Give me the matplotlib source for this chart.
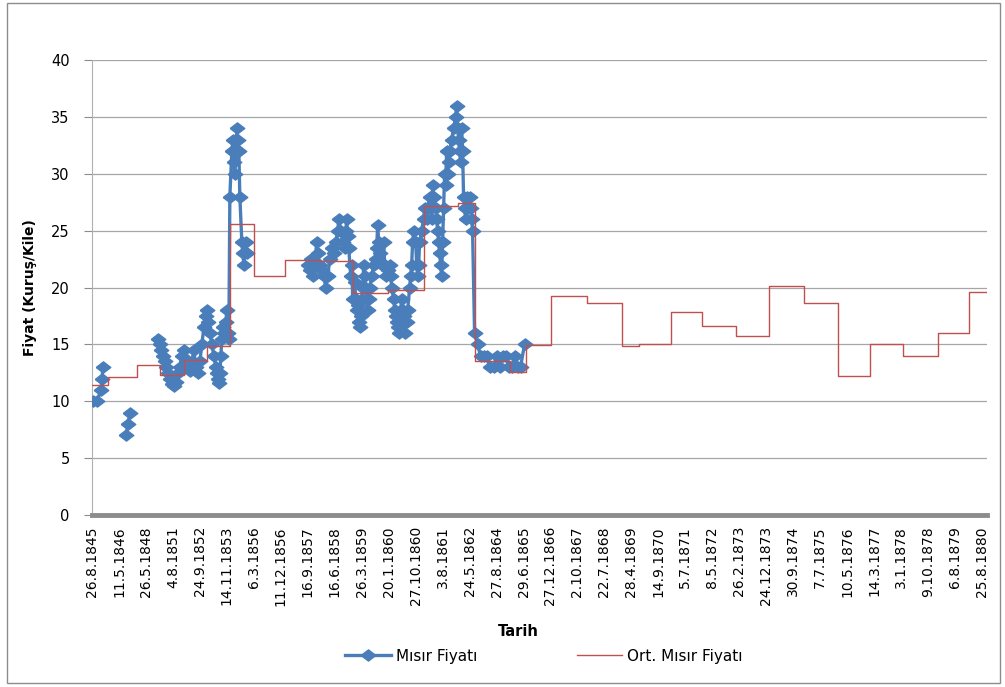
import numpy as np
import matplotlib
matplotlib.use("Agg")
import matplotlib.pyplot as plt
from matplotlib.patches import Rectangle

# x axis is a category axis: one label every 27 observations
tarih_etiket = ["26.8.1845", "11.5.1846", "26.5.1848", "4.8.1851", "24.9.1852", "14.11.1853",
                "6.3.1856", "11.12.1856", "16.9.1857", "16.6.1858", "26.3.1859", "20.1.1860",
                "27.10.1860", "3.8.1861", "24.5.1862", "27.8.1864", "29.6.1865", "27.12.1866",
                "2.10.1867", "22.7.1868", "28.4.1869", "14.9.1870", "5.7.1871", "8.5.1872",
                "26.2.1873", "24.12.1873", "30.9.1874", "7.7.1875", "10.5.1876", "14.3.1877",
                "3.1.1878", "9.10.1878", "6.8.1879", "25.8.1880"]
etiket_adim = 27
son_gozlem = 896

# Mısır fiyatı (observation index, price), in separate runs (gaps between them)
grup1_idx = [1, 5, 9, 10, 11]
grup1_fiyat = [10, 10, 11, 12, 13]

grup2_idx = [34, 36, 38]
grup2_fiyat = [7, 8, 9]

grup3_idx = [66, 68, 69, 71, 73, 74, 76, 78, 80, 82, 84, 86, 88, 90, 92, 94, 96, 98, 100, 102,
             104, 106, 108, 110, 112, 114, 115, 116, 118, 120, 122, 124, 125, 126, 127, 128, 129,
             130, 131, 132, 134, 135, 136, 137, 138, 140, 141, 142, 143, 144, 145, 146, 147, 148,
             150, 151, 152, 153, 154, 155]
grup3_fiyat = [15.5, 15, 14.5, 14, 13.5, 13, 12.5, 12, 11.5, 11.3, 11.7, 12.5, 13, 14, 14.5, 13.5,
               13, 12.7, 13.5, 14.5, 13, 12.5, 13.5, 15, 16.5, 17.5, 18, 17, 16, 15, 14, 13, 12.5,
               12, 11.6, 12.5, 14, 15.5, 16.5, 16, 17, 18, 16, 15.5, 28, 32, 33, 31, 30, 32, 34,
               33, 32, 28, 24, 23, 22, 23, 24, 23]

grup4_idx = [216, 218, 219, 221, 223, 225, 226, 228, 230, 232, 234, 236, 238, 240, 242, 244, 246,
             247, 249, 251, 253, 254, 255, 256, 257, 259, 260, 261, 263, 264, 265, 266, 267, 268,
             269, 270, 271, 272, 273, 274, 275, 276, 277, 278, 280, 282, 284, 285, 286, 287, 288,
             290, 292, 293, 294, 296, 298, 299, 300, 302, 303, 304, 305, 306, 307, 308, 309, 310,
             311, 312, 313, 315, 316, 318, 319, 320, 321, 322, 324, 325, 326, 327, 328, 330, 332,
             333, 335, 336, 338, 339, 340, 341, 342, 344, 345, 346, 347, 348, 349, 350, 351, 352,
             353, 354, 355, 356, 357, 358, 360, 362, 364, 365, 366, 367, 368, 369, 370, 371, 372,
             373, 374, 375, 376, 378, 379, 380, 381, 383, 386, 389, 392, 395, 398, 402, 405, 408,
             411, 414, 417, 420, 423, 426, 429, 433]
grup4_fiyat = [22, 21.5, 22.5, 21, 22, 24, 23, 22, 21.5, 21, 20, 21, 22.5, 23.5, 23, 24, 25, 26,
               25, 24, 23.5, 25, 26, 24.5, 23.5, 21, 22, 19, 20.5, 19, 18, 18.5, 17, 16.5, 17.5,
               19, 20, 22, 21, 20, 19, 18, 19, 20, 21, 22, 22.5, 23.5, 25.5, 24, 23, 22, 24, 22,
               21, 21.5, 22, 21, 20, 19, 18, 17.5, 17, 16.5, 16, 17, 18, 19, 18, 17.5, 16, 17, 18,
               20, 21, 22, 24, 25, 24, 22, 21, 22, 24, 25, 26, 27, 26, 27, 28, 27, 26, 29, 28, 27,
               26, 25, 24, 23, 22, 21, 24, 27, 30, 29, 32, 30, 31, 32, 33, 34, 35, 36, 34, 33, 32,
               31, 34, 32, 28, 27, 26, 28, 27, 28, 27, 26, 25, 16, 15, 14, 14, 14, 13, 13, 14, 13,
               14, 14, 13, 13, 14, 13, 13, 15]

# Ort. Mısır Fiyatı: period start index and average level
ort_baslangic = [0, 16, 45, 68, 92, 115, 138, 162, 193, 227, 261, 296, 332, 366, 383, 418, 434,
                 460, 496, 531, 548, 580, 611, 645, 678, 713, 747, 779, 812, 847, 878]
ort_fiyat = [11.4, 12.1, 13.2, 12.3, 13.6, 14.9, 25.6, 21.0, 22.4, 22.3, 19.5, 19.8, 27.2, 27.4,
             13.5, 12.6, 14.95, 19.25, 18.6, 14.85, 15.0, 17.85, 16.6, 15.7, 20.1, 18.6, 12.2,
             15.0, 14.0, 16.0, 19.6]

mavi = "#4a7ebb"
kirmizi = "#c0504d"
gri = "#8c8c8c"

# join the runs with NaN so the line breaks between them
x_m, y_m = [], []
for gi, gf in [(grup1_idx, grup1_fiyat), (grup2_idx, grup2_fiyat),
               (grup3_idx, grup3_fiyat), (grup4_idx, grup4_fiyat)]:
    x_m += gi + [np.nan]
    y_m += gf + [np.nan]

fig = plt.figure(figsize=(10.05, 6.87), dpi=100)
ax = fig.add_axes([92 / 1005, 1 - 515 / 687, (987 - 92) / 1005, (515 - 60) / 687])

elmas = [(-1.3, 0), (0, 1), (1.3, 0), (0, -1), (-1.3, 0)]
ax.plot(x_m, y_m, color=mavi, lw=2.4, marker=elmas, markersize=10.5, mec=mavi, mfc=mavi,
        label="Mısır Fiyatı", zorder=3)

x_o = ort_baslangic + [son_gozlem]
y_o = ort_fiyat + [ort_fiyat[-1]]
ax.step(x_o, y_o, where="post", color=kirmizi, lw=1.0, label="Ort. Mısır Fiyatı", zorder=4)

ax.set_xlim(0, son_gozlem)
ax.set_ylim(0, 40)
ax.set_yticks(range(0, 41, 5))
ax.set_xticks(range(0, len(tarih_etiket) * etiket_adim, etiket_adim))
ax.set_xticklabels(tarih_etiket, rotation=90, fontsize=10)
ax.tick_params(axis="x", length=0, pad=8)
ax.tick_params(axis="y", length=6, width=0.8, color=gri, labelsize=10.5, pad=10)

ax.grid(axis="y", color="#a6a6a6", lw=0.9)
ax.set_axisbelow(True)
for s in ["top", "right"]:
    ax.spines[s].set_visible(False)
ax.spines["left"].set_color("#b0b0b0")
ax.spines["bottom"].set_color(gri)
ax.spines["bottom"].set_linewidth(3.5)

ax.set_ylabel("Fiyat (Kuruş/Kile)", fontsize=10, fontweight="bold", labelpad=10)
fig.text(518 / 1005, 1 - 632 / 687, "Tarih", fontsize=10.5, fontweight="bold", ha="center", va="center")

fig.legend(loc="center", bbox_to_anchor=(544 / 1005, 1 - 656 / 687), ncol=2, frameon=False,
           fontsize=11, handlelength=3, columnspacing=6.5, handletextpad=0.3)

fig.patches.append(Rectangle((0.007, 0.006), 0.988, 0.989, transform=fig.transFigure,
                             fill=False, edgecolor=gri, lw=1))

fig.savefig("out.png", dpi=100)
